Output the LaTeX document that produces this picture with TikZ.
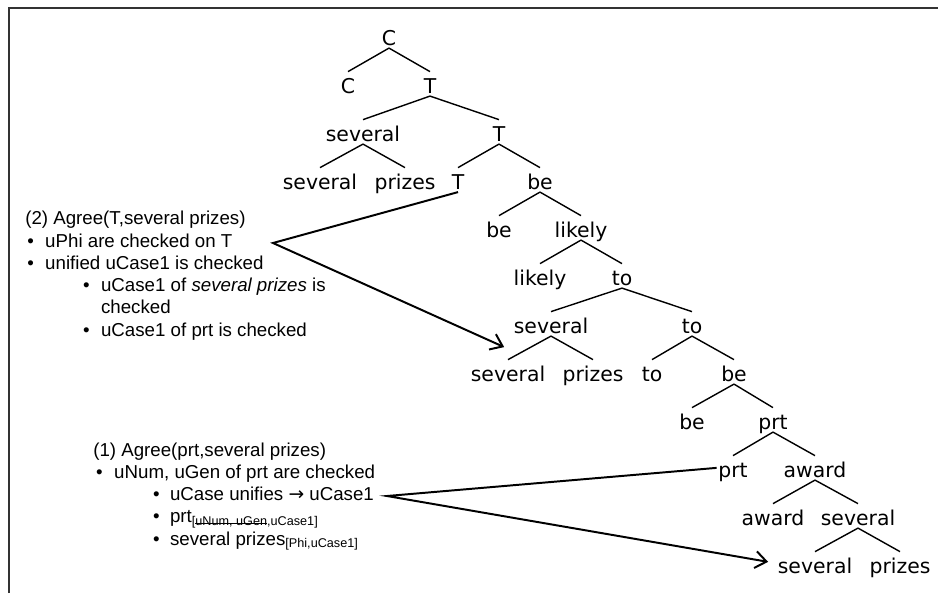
\documentclass[tikz,border=0pt]{standalone}
\usepackage{fontspec}
\setmainfont{Liberation Sans}
\newfontfamily\baumfont{DejaVu Sans}
\usetikzlibrary{arrows.meta,calc}
\newcommand{\pkt}[2]{\hspace*{#1}\makebox[#2][l]{\textbullet}}
\newcommand{\merk}[1]{\raisebox{-2pt}{\fontsize{9pt}{10pt}\selectfont[#1]}}
\newcommand{\durch}[1]{\setbox0\hbox{#1}\rlap{\rule[0.3ex]{\wd0}{0.5pt}}\box0}
\tikzset{
  knoten/.style={font=\baumfont\fontsize{14.5pt}{17pt}\selectfont,anchor=base,
    inner xsep=1pt,inner ysep=2pt,text height=13pt,text depth=0pt},
  ast/.style={line width=1pt},
  pfeil/.style={-{Straight Barb[length=2.8mm,width=4.2mm]},line width=1.4pt},
  notiz/.style={font=\fontsize{13.3pt}{15.8pt}\selectfont,align=left,anchor=base west,inner sep=0pt},
  rahmen/.style={black!80,line width=1.2pt},
}
\begin{document}
\begin{tikzpicture}[x=0.025cm,y=-0.025cm]
  \useasboundingbox (0,0) rectangle (938,593);
  \draw[rahmen] (9,593) -- (9,8) -- (938,8);
  % Baum
  \node[knoten] (c0) at (389,45) {C};
  \node[knoten] (c1) at (348,93) {C};
  \node[knoten] (t1) at (430,93) {T};
  \node[knoten] (s2) at (363,141) {several};
  \node[knoten] (t2) at (499,141) {T};
  \node[knoten] (s3) at (320,189) {several};
  \node[knoten] (p3) at (405,189) {prizes};
  \node[knoten] (t3) at (458,189) {T};
  \node[knoten] (b3) at (540,189) {be};
  \node[knoten] (b4) at (499,237) {be};
  \node[knoten] (l4) at (581,237) {likely};
  \node[knoten] (l5) at (540,285) {likely};
  \node[knoten] (o5) at (622,285) {to};
  \node[knoten] (s6) at (551,333) {several};
  \node[knoten] (o6) at (692,333) {to};
  \node[knoten] (s7) at (508,381) {several};
  \node[knoten] (p7) at (593,381) {prizes};
  \node[knoten] (o7) at (652,381) {to};
  \node[knoten] (b7) at (734,381) {be};
  \node[knoten] (b8) at (692,429) {be};
  \node[knoten] (r8) at (773,429) {prt};
  \node[knoten] (r9) at (733,477) {prt};
  \node[knoten] (a9) at (815,477) {award};
  \node[knoten] (a10) at (773,525) {award};
  \node[knoten] (s10) at (858,525) {several};
  \node[knoten] (s11) at (815,573) {several};
  \node[knoten] (p11) at (900,573) {prizes};
  \foreach \p/\c in {c0/c1,c0/t1,t1/s2,t1/t2,s2/s3,s2/p3,t2/t3,t2/b3,b3/b4,b3/l4,
      l4/l5,l4/o5,o5/s6,o5/o6,s6/s7,s6/p7,o6/o7,o6/b7,b7/b8,b7/r8,r8/r9,r8/a9,
      a9/a10,a9/s10,s10/s11,s10/p11}
    \draw[ast] (\p.south) -- (\c.north);
  % Agree-Schritte (Anker: Grundlinie der letzten Zeile)
  \node[notiz] (agreeT) at (25,336) {(2) Agree(T,several prizes)\\
    \pkt{1.4pt}{12.8pt}uPhi are checked on T\\
    \pkt{1.4pt}{12.8pt}unified uCase1 is checked\\
    \pkt{41.1pt}{12.8pt}uCase1 of \textit{several prizes} is\\
    \hspace*{53.9pt}checked\\
    \pkt{41.1pt}{12.8pt}uCase1 of prt is checked};
  \node[notiz] (agreeP) at (93,545) {(1) Agree(prt,several prizes)\\
    \pkt{2.1pt}{12.8pt}uNum, uGen of prt are checked\\
    \pkt{42.5pt}{12.1pt}uCase unifies {\baumfont →} uCase1\\
    \pkt{42.5pt}{12.1pt}prt\merk{\durch{uNum, uGen},uCase1}\\
    \pkt{42.5pt}{12.1pt}several prizes\merk{Phi,uCase1}};
  \coordinate (kT) at (273,243);
  \coordinate (kP) at (387,496);
  \draw[pfeil] (t3.south) -- (kT) -- ($(s6.south west)+(-8,11)$);
  \draw[pfeil] (r9.west) -- (kP) -- ($(s11.west)+(-8,-2)$);
\end{tikzpicture}
\end{document}
